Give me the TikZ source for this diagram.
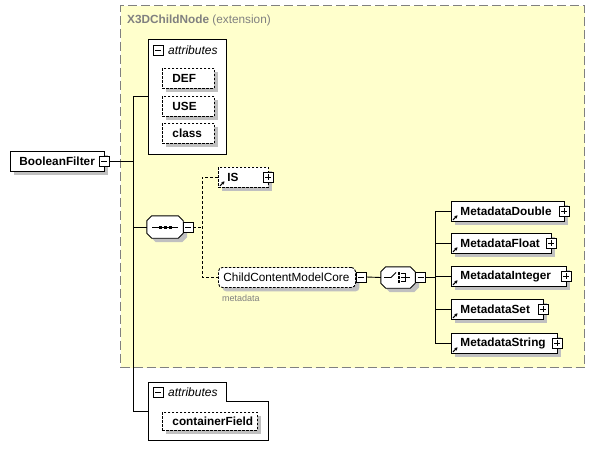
\documentclass[tikz,border=0pt]{standalone}
\usepackage{fontspec}
\setmainfont{Liberation Sans}
\usetikzlibrary{shadows,arrows.meta,calc}
\definecolor{ylw}{RGB}{255,255,204}
\definecolor{frm}{RGB}{128,128,128}
\definecolor{shd}{RGB}{192,192,192}
\tikzset{
  conn/.style={line width=0.9pt},
  dconn/.style={conn, dash pattern=on 3pt off 2pt},
  shad/.style={drop shadow={shadow xshift=4pt,shadow yshift=-4pt,fill=shd,opacity=1}},
  elem/.style={draw, fill=white, line width=0.9pt, inner ysep=0pt, anchor=north west,
    align=left, minimum height=20pt, font=\fontsize{11.8}{14}\selectfont\bfseries, shad},
  optelem/.style={elem, dash pattern=on 2.5pt off 1.5pt},
  grp/.style={draw, fill=white, line width=0.9pt, inner sep=0pt, anchor=north west},
  attrtxt/.style={anchor=west, inner sep=0pt, font=\fontsize{12}{14}\selectfont\itshape},
  mbox/.style={draw, fill=white, line width=0.8pt, minimum size=10pt, inner sep=0pt,
    path picture={\draw[line width=0.8pt] ([xshift=2pt]path picture bounding box.west) -- ([xshift=-2pt]path picture bounding box.east);}},
  pbox/.style={draw, fill=white, line width=0.8pt, minimum size=10pt, inner sep=0pt,
    path picture={\draw[line width=0.8pt] ([xshift=2pt]path picture bounding box.west) -- ([xshift=-2pt]path picture bounding box.east)
      ([yshift=-2pt]path picture bounding box.north) -- ([yshift=2pt]path picture bounding box.south);}},
  octoframe/.style={draw=none, inner sep=0pt},
  octoline/.style={line width=0.9pt, fill=white, shad},
  refarrow/.style={line width=1.1pt, -{Stealth[length=3pt,width=3.5pt]}},
}
\begin{document}
\begin{tikzpicture}[x=1pt,y=-1pt]
\useasboundingbox (0,0) rectangle (595,460);
% extension frame
\node[draw=frm, fill=ylw, line width=1.2pt, dash pattern=on 9pt off 4pt, inner sep=0pt,
  minimum width=464pt, minimum height=362pt, anchor=north west] (ext) at (120,5) {};
\node[anchor=west, inner sep=0pt, text=frm, font=\fontsize{11.8}{14}\selectfont] (title) at (127,20)
  {\textbf{X3DChildNode} (extension)};

% root
\node[elem, inner xsep=9pt, text width=76pt] (bf) at (10,151) {BooleanFilter};
\node[mbox] (bfm) at (104,161) {};

% trunk coordinates
\coordinate (trk) at (133,0);
\coordinate (dtrk) at (202,0);
\coordinate (trk2) at (435,0);

% attributes group 1
\node[grp, minimum width=78pt, minimum height=115pt] (attr1) at (148,39) {};
\node[mbox] (a1m) at (158,50) {};
\node[attrtxt] (a1t) at (168,50) {attributes};
\node[optelem, inner xsep=10pt, text width=32pt] (def) at (162,68) {DEF};
\node[optelem, inner xsep=10pt, text width=32pt] (use) at (162,96) {USE};
\node[optelem, inner xsep=10pt, text width=32pt] (cls) at (162,123) {class};

% sequence
\node[octoframe, minimum width=36pt, minimum height=22pt] (seq) at (165,227) {};
\filldraw[octoline] ($(seq.north west)+(5,0)$) -- ($(seq.north east)+(-5,0)$) -- ($(seq.north east)+(0,5)$)
  -- ($(seq.south east)+(0,-5)$) -- ($(seq.south east)+(-5,0)$) -- ($(seq.south west)+(5,0)$)
  -- ($(seq.south west)+(0,-5)$) -- ($(seq.north west)+(0,5)$) -- cycle;
\node[mbox] (seqm) at (188,227) {};
\draw[line width=0.9pt] ($(seq.center)+(-13,0)$) -- ($(seq.center)+(13,0)$);
\foreach \dx in {-5,0,5} \fill ($(seq.center)+(\dx-1.5,-1.5)$) rectangle ++(3,3);

% IS
\node[optelem, inner xsep=9pt, text width=32pt] (is) at (218,167) {IS};
\node[pbox] (ism) at (268,177) {};
\draw[refarrow] ($(is.south west)+(2,-2)$) -- ++(4.5,-4.5);

% ChildContentModelCore
\node[optelem, rounded corners=4pt, inner xsep=5pt, text width=127pt,
  font=\fontsize{11.8}{14}\selectfont] (ccmc) at (218,267) {ChildContentModelCore};
\node[mbox] (ccm) at (361,277) {};
\node[anchor=west, inner sep=0pt, text=frm, font=\fontsize{9}{11}\selectfont] (mdnote) at (222,298) {metadata};

% choice
\node[octoframe, minimum width=34pt, minimum height=21pt] (ch) at (398,277.5) {};
\filldraw[octoline] ($(ch.north west)+(5,0)$) -- ($(ch.north east)+(-5,0)$) -- ($(ch.north east)+(0,5)$)
  -- ($(ch.south east)+(0,-5)$) -- ($(ch.south east)+(-5,0)$) -- ($(ch.south west)+(5,0)$)
  -- ($(ch.south west)+(0,-5)$) -- ($(ch.north west)+(0,5)$) -- cycle;
\node[mbox] (chm) at (420.5,277.5) {};
\draw[line width=0.9pt] ($(ch.center)+(-14,0)$) -- ($(ch.center)+(-7,0)$) -- ($(ch.center)+(-2,-5)$);
\foreach \dy in {-4,0,4} \fill ($(ch.center)+(-0.5,\dy-1.2)$) rectangle ++(2.6,2.4);
\draw[line width=0.9pt] ($(ch.center)+(3,-4)$) -- ($(ch.center)+(7,-4)$) -- ($(ch.center)+(7,4)$) -- ($(ch.center)+(3,4)$);
\draw[line width=0.9pt] ($(ch.center)+(3,0)$) -- ($(ch.center)+(12,0)$);

% Metadata elements
\node[elem, inner xsep=9pt, text width=95pt] (mdd) at (451,201) {MetadataDouble};
\node[pbox] (mddp) at (564,211) {};
\node[elem, inner xsep=9pt, text width=82pt] (mdf) at (451,233) {MetadataFloat};
\node[pbox] (mdfp) at (551,243) {};
\node[elem, inner xsep=9pt, text width=97pt] (mdi) at (451,266) {MetadataInteger};
\node[pbox] (mdip) at (566,276) {};
\node[elem, inner xsep=9pt, text width=74pt] (mds) at (451,299) {MetadataSet};
\node[pbox] (mdsp) at (543,309) {};
\node[elem, inner xsep=9pt, text width=88pt] (mdstr) at (451,333) {MetadataString};
\node[pbox] (mdstrp) at (557,343) {};
\foreach \n in {mdd,mdf,mdi,mds,mdstr}
  \draw[refarrow] ($(\n.south west)+(2,-2)$) -- ++(4.5,-4.5);

% attributes group 2
\node[inner sep=0pt, minimum width=120pt, minimum height=58pt, anchor=north west] (attr2) at (148,382) {};
\draw[line width=0.9pt, fill=white] (attr2.north west) -- ($(attr2.north west)+(78,0)$) -- ($(attr2.north west)+(78,19)$)
  -- ($(attr2.north east)+(0,19)$) -- (attr2.south east) -- (attr2.south west) -- cycle;
\node[mbox] (a2m) at (158,392) {};
\node[attrtxt] (a2t) at (168,392) {attributes};
\node[optelem, inner xsep=10pt, text width=75pt, minimum height=18pt] (cf) at (162,412) {containerField};

% connectors
\draw[conn] (bfm.east) -- (bfm.east -| trk);
\draw[conn] (attr1.west) -- (attr1.west -| trk) -- (attr2.west -| trk) -- (attr2.west);
\draw[conn] (seq.west -| trk) -- (seq.west);
\draw[dconn] (seqm.east) -- (seqm.east -| dtrk);
\draw[dconn] (is.west) -- (is.west -| dtrk) -- (ccmc.west -| dtrk) -- (ccmc.west);
\draw[conn] (ccm.east) -- (ch.west);
\draw[conn] (chm.east) -- (chm.east -| trk2);
\draw[conn] (mdd.west) -- (mdd.west -| trk2) -- (mdstr.west -| trk2) -- (mdstr.west);
\draw[conn] (mdf.west -| trk2) -- (mdf.west);
\draw[conn] (mdi.west -| trk2) -- (mdi.west);
\draw[conn] (mds.west -| trk2) -- (mds.west);
\end{tikzpicture}
\end{document}
